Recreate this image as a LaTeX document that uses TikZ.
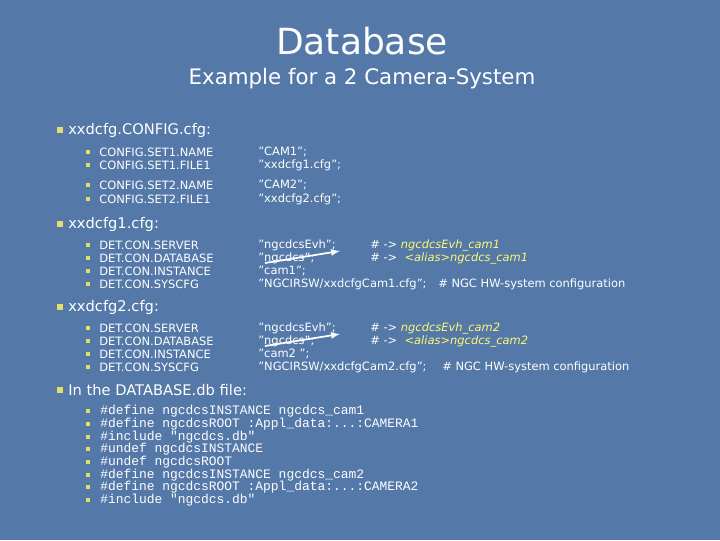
\documentclass[tikz,border=0pt]{standalone}
\usepackage{fontspec}
\setmainfont{DejaVu Sans}
\setmonofont{Liberation Mono}
\newcommand\mydots{...}
\newcommand\q{\char34\relax}
\begin{document}
\begin{tikzpicture}[x=0.75pt,y=-0.75pt,
  lone/.style={anchor=west,inner sep=0,text=white,font=\fontsize{11}{12}\selectfont},
  ltwo/.style={anchor=west,inner sep=0,text=white,font=\fontsize{8.6}{9}\selectfont},
  lcode/.style={anchor=west,inner sep=0,text=white,font=\ttfamily\fontsize{9.7}{10}\selectfont},
  bone/.style={fill={rgb,255:red,230;green,220;blue,110},minimum size=4.5pt,inner sep=0},
  btwo/.style={fill={rgb,255:red,230;green,220;blue,110},minimum size=3.2pt,inner sep=0},
  arr/.style={draw=white,line width=1.3pt,-latex}]
\colorlet{hl}{yellow!55!white}
\fill[fill={rgb,255:red,84;green,120;blue,168}] (0,0) rectangle (720,540);
\useasboundingbox (0,0) rectangle (720,540);
\node[text=white,font=\fontsize{27}{30}\selectfont] (t) at (362,41) {Database};
\node[text=white,font=\fontsize{16}{18}\selectfont] (st) at (362,79) {Example for a 2 Camera-System};
\foreach \y/\t [count=\i] in {130/xxdcfg.CONFIG.cfg:,224/xxdcfg1.cfg:,307/xxdcfg2.cfg:,390/In the DATABASE.db file:}{
  \node[bone] (b\i) at (60,\y) {};
  \node[lone] (h\i) at (68,\y) {\t};
}
\foreach \y/\a/\b [count=\i] in {152/CONFIG.SET1.NAME/{\q CAM1\q;},165/CONFIG.SET1.FILE1/{\q xxdcfg1.cfg\q;},185/CONFIG.SET2.NAME/{\q CAM2\q;},199/CONFIG.SET2.FILE1/{\q xxdcfg2.cfg\q;}}{
  \node[btwo] (c\i) at (88,\y) {};
  \node[ltwo] (ca\i) at (99,\y) {\a};
  \node[ltwo] (cb\i) at (258,\y) {\b};
}
\foreach \y/\a/\b [count=\i] in {245/DET.CON.SERVER/{\q ngcdcsEvh\q;},258/DET.CON.DATABASE/{\q ngcdcs\q;},271/DET.CON.INSTANCE/{\q cam1\q;},284/DET.CON.SYSCFG/{\q NGCIRSW/xxdcfgCam1.cfg\q;}}{
  \node[btwo] (d\i) at (88,\y) {};
  \node[ltwo] (da\i) at (99,\y) {\a};
  \node[ltwo] (db\i) at (258,\y) {\b};
}
\foreach \y/\a/\b [count=\i] in {328/DET.CON.SERVER/{\q ngcdcsEvh\q;},341/DET.CON.DATABASE/{\q ngcdcs\q;},354/DET.CON.INSTANCE/{\q cam2 \q;},367/DET.CON.SYSCFG/{\q NGCIRSW/xxdcfgCam2.cfg\q;}}{
  \node[btwo] (e\i) at (88,\y) {};
  \node[ltwo] (ea\i) at (99,\y) {\a};
  \node[ltwo] (eb\i) at (258,\y) {\b};
}
\node[ltwo] (x1) at (370,245) {\# -> \textit{\textcolor{hl}{ngcdcsEvh\_cam1}}};
\node[ltwo] (x2) at (370,258) {\# ->\ \ \textit{\textcolor{hl}{<alias>ngcdcs\_cam1}}};
\node[ltwo] (x3) at (438,284) {\# NGC HW-system configuration};
\node[ltwo] (y1) at (370,328) {\# -> \textit{\textcolor{hl}{ngcdcsEvh\_cam2}}};
\node[ltwo] (y2) at (370,341) {\# ->\ \ \textit{\textcolor{hl}{<alias>ngcdcs\_cam2}}};
\node[ltwo] (y3) at (442,367) {\# NGC HW-system configuration};
\coordinate (p1) at (265,263); \coordinate (q1) at (340,251);
\coordinate (p2) at (265,346); \coordinate (q2) at (340,334);
\draw[arr] (p1) -- (q1);
\draw[arr] (p2) -- (q2);
\foreach \y/\t [count=\i] in {411/\#define ngcdcsINSTANCE ngcdcs\_cam1,424/\#define ngcdcsROOT :Appl\_data:\mydots:CAMERA1,437/\#include "ngcdcs.db",449/\#undef ngcdcsINSTANCE,462/\#undef ngcdcsROOT,475/\#define ngcdcsINSTANCE ngcdcs\_cam2,487/\#define ngcdcsROOT :Appl\_data:\mydots:CAMERA2,500/\#include "ngcdcs.db"}{
  \node[btwo] (f\i) at (88,\y) {};
  \node[lcode] (fa\i) at (100,\y) {\t};
}
\end{tikzpicture}
\end{document}
